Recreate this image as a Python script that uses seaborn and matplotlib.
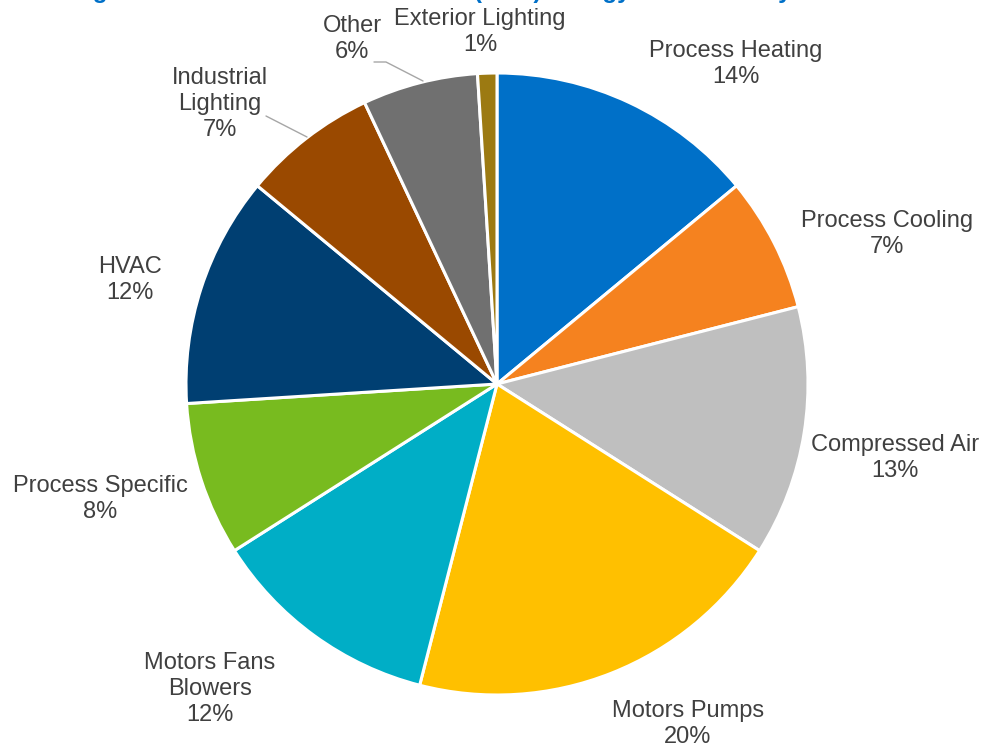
import matplotlib
matplotlib.use("Agg")
import matplotlib.pyplot as plt
import seaborn as sns

# End-use shares of industrial electricity (percent)
end_uses = ["Process Heating", "Process Cooling", "Compressed Air", "Motors Pumps",
            "Motors Fans\nBlowers", "Process Specific", "HVAC", "Industrial\nLighting",
            "Other", "Exterior Lighting"]
shares = [14, 7, 13, 20, 12, 8, 12, 7, 6, 1]
colors = ["#0070C8", "#F5821F", "#BFBFBF", "#FFC000", "#00AEC6",
          "#78BB1F", "#003F72", "#9A4900", "#707070", "#9C7A12"]

title = "Figure 4: Industrial Sector Electric (kWh) Energy Use Share by End Use"

# label anchor points in pixel space (x from left, y from top)
label_xy = [(736, 64), (887, 234), (895, 458), (688, 724), (210, 689),
            (100, 499), (130, 280), (220, 104), (352, 39), (480, 32)]

W, H = 987, 755
sns.set_theme(style="white")
plt.rcParams["font.family"] = ["Liberation Sans", "DejaVu Sans"]

fig = plt.figure(figsize=(W / 100, H / 100), dpi=100)
ax = fig.add_axes([0, 0, 1, 1])

cx, cy, r = 497, H - 384, 311
ax.pie(shares, colors=colors, startangle=90, counterclock=False,
       center=(cx, cy), radius=r, frame=True,
       wedgeprops=dict(edgecolor="white", linewidth=2.2))
ax.set_xlim(0, W)
ax.set_ylim(0, H)
ax.set_aspect("equal")
ax.axis("off")

for name, val, (x, y) in zip(end_uses, shares, label_xy):
    ax.text(x, H - y, f"{name}\n{val}%", ha="center", va="center",
            fontsize=17, color="#404040", linespacing=1.25)

# leader lines for the two small top-left slices
ax.plot([266, 307], [H - 116, H - 137], color="#A6A6A6", lw=1)
ax.plot([374, 386, 423], [H - 62, H - 62, H - 81], color="#A6A6A6", lw=1)

fig.text(0.49, 1 + 2 / H, title, ha="center", va="baseline",
         fontsize=17.5, fontweight="bold", color="#0070C8")

fig.savefig("out.png", dpi=100)
